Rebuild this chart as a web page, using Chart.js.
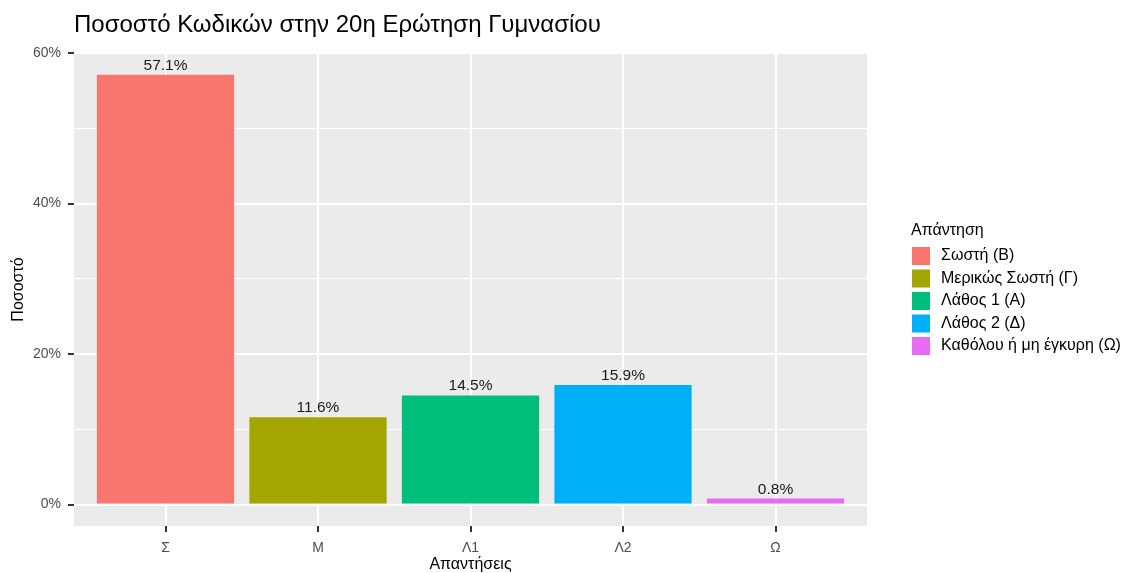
<!DOCTYPE html>
<html>
<head>
<meta charset="utf-8">
<script src="https://cdn.jsdelivr.net/npm/chart.js@4.4.1/dist/chart.umd.min.js"></script>
<style>
html,body{margin:0;padding:0;background:#ffffff;}
#wrap{width:1124px;height:573px;position:relative;}
canvas{display:block;}
</style>
</head>
<body>
<div id="wrap"><canvas id="c" width="1124" height="573"></canvas></div>
<script>
const chartTitle = 'Ποσοστό Κωδικών στην 20η Ερώτηση Γυμνασίου';
const xAxisTitle = 'Απαντήσεις';
const yAxisTitle = 'Ποσοστό';
const legendTitle = 'Απάντηση';
const categories = ['Σ', 'Μ', 'Λ1', 'Λ2', 'Ω'];
const legendLabels = ['Σωστή (Β)', 'Μερικώς Σωστή (Γ)', 'Λάθος 1 (Α)', 'Λάθος 2 (Δ)', 'Καθόλου ή μη έγκυρη (Ω)'];
const percentages = [57.1, 11.6, 14.5, 15.9, 0.8];
const barColors = ['#F8766D', '#A3A500', '#00BF7D', '#00B0F6', '#E76BF3'];
const yTickValues = [0, 10, 20, 30, 40, 50, 60];
const yMajorTicks = [0, 20, 40, 60];

const FONT = '"Liberation Sans", Arial, Helvetica, sans-serif';
Chart.defaults.font.family = FONT;

const panelPlugin = {
  id: 'panel',
  beforeDraw(chart) {
    const {ctx, chartArea: a} = chart;
    ctx.save();
    ctx.fillStyle = '#ffffff';
    ctx.fillRect(0, 0, chart.width, chart.height);
    ctx.fillStyle = '#EBEBEB';
    ctx.fillRect(a.left, a.top, a.right - a.left, a.bottom - a.top);
    ctx.restore();
  }
};

const labelPlugin = {
  id: 'barLabels',
  afterDatasetsDraw(chart) {
    const {ctx} = chart;
    const meta = chart.getDatasetMeta(0);
    ctx.save();
    ctx.font = '15.5px ' + FONT;
    ctx.fillStyle = '#1a1a1a';
    ctx.textAlign = 'center';
    ctx.textBaseline = 'alphabetic';
    meta.data.forEach((el, i) => {
      ctx.fillText(percentages[i].toFixed(1) + '%', el.x, el.y - 5);
    });
    ctx.restore();
  }
};

const extrasPlugin = {
  id: 'extras',
  afterDraw(chart) {
    const {ctx, chartArea: a} = chart;
    ctx.save();
    ctx.font = '24px ' + FONT;
    ctx.fillStyle = '#000000';
    ctx.textAlign = 'left';
    ctx.textBaseline = 'alphabetic';
    ctx.fillText(chartTitle, a.left, 31.5);
    const lx = a.right + 45;
    ctx.font = '16px ' + FONT;
    ctx.textBaseline = 'middle';
    ctx.fillText(legendTitle, lx - 1, 231);
    legendLabels.forEach((lab, i) => {
      const cy = 256 + i * 22.5;
      ctx.fillStyle = barColors[i];
      ctx.fillRect(lx, cy - 9, 18, 18);
      ctx.fillStyle = '#000000';
      ctx.fillText(lab, lx + 29, cy);
    });
    ctx.restore();
  }
};

new Chart(document.getElementById('c'), {
  type: 'bar',
  data: {
    datasets: [{
      data: percentages.map((v, i) => ({x: i, y: v})),
      backgroundColor: barColors,
      borderWidth: 0,
      barPercentage: 0.9,
      categoryPercentage: 1.0
    }]
  },
  options: {
    responsive: false,
    animation: false,
    devicePixelRatio: 1,
    layout: {padding: {left: 0, right: 257, top: 53, bottom: 0}},
    plugins: {
      legend: {display: false},
      tooltip: {enabled: false},
      title: {display: false}
    },
    scales: {
      x: {
        type: 'linear',
        offset: false,
        min: -0.6,
        max: 4.6,
        afterBuildTicks: s => { s.ticks = categories.map((_, i) => ({value: i})); },
        afterFit: s => { s.height = 47; },
        border: {display: false},
        grid: {
          offset: false,
          color: '#ffffff',
          lineWidth: 2,
          tickColor: '#333333',
          tickLength: 6,
          tickWidth: 2
        },
        ticks: {
          callback: v => categories[v],
          color: '#4D4D4D',
          font: {size: 14},
          padding: 8,
          maxRotation: 0,
          autoSkip: false
        },
        title: {
          display: true,
          text: xAxisTitle,
          color: '#000000',
          font: {size: 16, lineHeight: 1.0},
          padding: {top: 0, bottom: 0}
        }
      },
      y: {
        type: 'linear',
        min: -2.85,
        max: 60,
        afterBuildTicks: s => { s.ticks = yTickValues.map(v => ({value: v})); },
        afterFit: s => { s.width = 74; },
        border: {display: false},
        grid: {
          color: '#ffffff',
          lineWidth: c => yMajorTicks.includes(c.tick && c.tick.value) ? 2 : 1,
          tickColor: c => yMajorTicks.includes(c.tick && c.tick.value) ? '#333333' : 'rgba(0,0,0,0)',
          tickLength: 6,
          tickWidth: 2
        },
        ticks: {
          callback: v => yMajorTicks.includes(v) ? v + '%' : '',
          color: '#4D4D4D',
          font: {size: 14},
          padding: 7,
          autoSkip: false
        },
        title: {
          display: true,
          text: yAxisTitle,
          color: '#000000',
          font: {size: 16},
          padding: {top: 9, bottom: 0}
        }
      }
    }
  },
  plugins: [panelPlugin, labelPlugin, extrasPlugin]
});
</script>
</body>
</html>
